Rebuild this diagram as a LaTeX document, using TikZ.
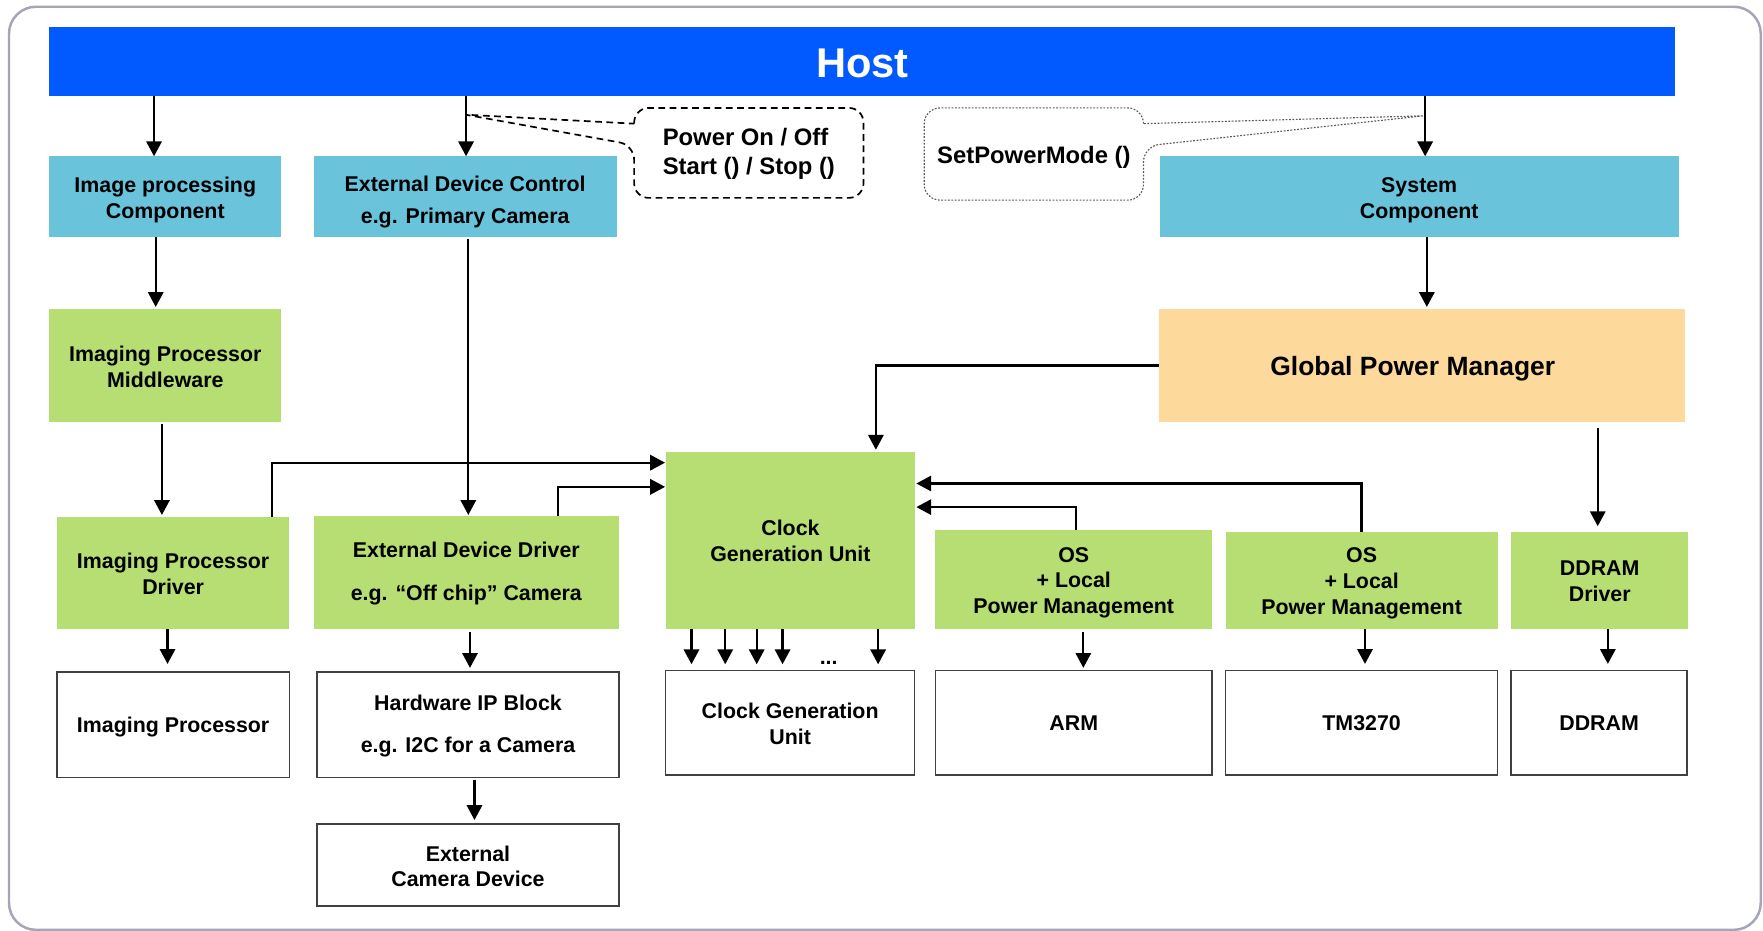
\documentclass[tikz,border=0pt]{standalone}
\usepackage{fontspec}
\setmainfont{Liberation Sans}
\usetikzlibrary{arrows.meta}
\definecolor{hostblue}{RGB}{0,90,255}
\definecolor{lblue}{RGB}{105,195,219}
\definecolor{lgreen}{RGB}{183,222,114}
\definecolor{lorange}{RGB}{253,218,155}
\definecolor{framegray}{RGB}{165,165,185}
\begin{document}
\begin{tikzpicture}[x=0.5pt,y=-0.5pt,
  blk/.style={inner sep=0pt, outer sep=0pt, align=center, font=\bfseries\fontsize{9.5}{11.5}\selectfont},
  bluebox/.style={blk, fill=lblue},
  greenbox/.style={blk, fill=lgreen},
  whitebox/.style={blk, fill=white, draw=black!75, line width=0.7pt},
  calltext/.style={inner sep=0pt, outer sep=0pt, align=left, font=\bfseries\fontsize{10.6}{13}\selectfont},
  arr/.style={line width=1pt, -{Triangle[length=6.6pt,width=6.8pt]}},
  plain/.style={line width=1pt}
]
\useasboundingbox (0,0) rectangle (1568,828);
% outer frame
\draw[framegray, line width=1.1pt, rounded corners=12pt] (8,6) rectangle (1566,827);

% host
\node[blk, fill=hostblue, minimum width=723pt, minimum height=30.5pt] (host) at (767,54.5) {};
\node[blk, text=white, font=\bfseries\fontsize{18.5}{22}\selectfont] (host-t) at ([yshift=-1pt]host.center) {Host};

% first row
\node[bluebox, minimum width=103pt, minimum height=36pt] (imgcomp) at (147,175) {};
\node[blk] (imgcomp-t) at ([yshift=-1.5pt]imgcomp.center) {Image processing\\Component};
\node[bluebox, minimum width=134.75pt, minimum height=36pt] (edc) at (413.75,175) {};
\node[blk] (edc-t) at ([yshift=-2.25pt]edc.center) {External Device Control\\[2.5pt]e.g. Primary Camera};
\node[bluebox, minimum width=230.75pt, minimum height=36pt] (syscomp) at (1262.25,175) {};
\node[blk] (syscomp-t) at ([yshift=-1.5pt]syscomp.center) {System\\Component};

% callouts
\node[calltext, minimum width=102pt, minimum height=40pt] (c1) at (666,136) {};
\node[calltext] (c1-t) at ([yshift=-0.5pt]c1.center) {Power On / Off\\Start () / Stop ()};
\node[calltext, minimum width=97.5pt, minimum height=41pt] (c2) at (919.5,137) {};
\node[calltext] (c2-t) at ([yshift=-1.5pt]c2.center) {SetPowerMode ()};
\coordinate (p1) at (414,102);
\coordinate (p2) at (1266,103);
\draw[line width=0.75pt, dash pattern=on 3pt off 2pt]
  (c1.west |- 0,110) [rounded corners=6.5pt] -- (c1.north west) -- (c1.north east) -- (c1.south east) -- (c1.south west) -- (c1.west |- 0,129) [sharp corners] -- (p1) -- cycle;
\draw[line width=0.5pt, black!65, dash pattern=on 0.8pt off 0.7pt]
  (c2.east |- 0,110) [rounded corners=7pt] -- (c2.north east) -- (c2.north west) -- (c2.south west) -- (c2.south east) -- (c2.east |- 0,130) [sharp corners] -- (p2) -- cycle;

% second row
\node[greenbox, minimum width=103pt, minimum height=50pt] (ipm) at (147,325) {};
\node[blk] (ipm-t) at ([yshift=-0.5pt]ipm.center) {Imaging Processor\\Middleware};
\node[blk, fill=lorange, minimum width=234pt, minimum height=50pt] (gpm) at (1265,325) {};
\node[blk, font=\bfseries\fontsize{11.75}{14}\selectfont] (gpm-t) at ([xshift=-4.25pt,yshift=-1.5pt]gpm.center) {Global Power Manager};

% third row
\node[greenbox, minimum width=103pt, minimum height=49.75pt] (ipd) at (154,509.75) {};
\node[blk] (ipd-t) at ([yshift=-0.5pt]ipd.center) {Imaging Processor\\Driver};
\node[greenbox, minimum width=135.75pt, minimum height=50.25pt] (edd) at (414.75,509.25) {};
\node[blk] (edd-t) at ([yshift=-0.5pt]edd.center) {External Device Driver\\[7.5pt]e.g. “Off chip” Camera};
\node[greenbox, minimum width=110.5pt, minimum height=78.75pt] (cgu) at (703,480.75) {};
\node[blk] (cgu-t) at (cgu.center) {Clock\\Generation Unit};
\node[greenbox, minimum width=123pt, minimum height=44.25pt] (os1) at (955,515.25) {};
\node[blk] (os1-t) at ([yshift=-1.5pt]os1.center) {OS\\+ Local\\Power Management};
\node[greenbox, minimum width=121pt, minimum height=43.25pt] (os2) at (1211,516.25) {};
\node[blk] (os2-t) at ([yshift=-1.25pt]os2.center) {OS\\+ Local\\Power Management};
\node[greenbox, minimum width=78.75pt, minimum height=43.25pt] (ddrd) at (1422.75,516.25) {};
\node[blk] (ddrd-t) at ([yshift=-0.5pt]ddrd.center) {DDRAM\\Driver};

% fourth row
\node[whitebox, minimum width=103.5pt, minimum height=47pt] (ip) at (154,644.5) {};
\node[blk] (ip-t) at ([yshift=-1pt]ip.center) {Imaging Processor};
\node[whitebox, minimum width=134.25pt, minimum height=47pt] (hw) at (416.25,644.5) {};
\node[blk] (hw-t) at ([yshift=-0.5pt]hw.center) {Hardware IP Block\\[7pt]e.g. I2C for a Camera};
\node[whitebox, minimum width=110.75pt, minimum height=46.5pt] (cgu2) at (702.75,643) {};
\node[blk] (cgu2-t) at ([yshift=-0.5pt]cgu2.center) {Clock Generation\\Unit};
\node[whitebox, minimum width=123pt, minimum height=46.5pt] (arm) at (955,643) {};
\node[blk] (arm-t) at (arm.center) {ARM};
\node[whitebox, minimum width=121pt, minimum height=46.5pt] (tm) at (1211,643) {};
\node[blk] (tm-t) at (tm.center) {TM3270};
\node[whitebox, minimum width=78.25pt, minimum height=46.5pt] (ddram) at (1422.25,643) {};
\node[blk] (ddram-t) at (ddram.center) {DDRAM};
\node[whitebox, minimum width=134.25pt, minimum height=36.5pt] (ecd) at (416.25,769.5) {};
\node[blk] (ecd-t) at ([yshift=-0.5pt]ecd.center) {External\\Camera Device};

\node[blk, anchor=base] (dots) at (737,591) {...};

% connectors from host
\draw[arr] (host.south -| 137,0) -- (imgcomp.north -| 137,0);
\draw[arr] (host.south -| 414.5,0) -- (edc.north -| 414.5,0);
\draw[arr] (host.south -| 1267.5,0) -- (syscomp.north -| 1267.5,0);

% left column
\draw[arr, shorten >=1pt] (imgcomp.south -| 138.5,0) -- (ipm.north -| 138.5,0);
\draw[arr, shorten <=1pt, shorten >=1pt] (ipm.south -| 144,0) -- (ipd.north -| 144,0);
\draw[arr, shorten >=3.5pt] (ipd.south -| 149,0) -- (ip.north -| 149,0);

% external device column
\draw[arr, shorten <=1pt, shorten >=0.5pt] (edc.south -| 416.5,0) -- (edd.north -| 416.5,0);
\draw[arr, shorten <=1.5pt, shorten >=1.75pt] (edd.south -| 418,0) -- (hw.north -| 418,0);
\draw[arr, shorten <=1pt, shorten >=1.85pt] (hw.south -| 422,0) -- (ecd.north -| 422,0);

% into clock generation unit
\draw[arr, shorten >=0.5pt] (ipd.north -| 242,0) |- (cgu.west |- 0,411.5);
\draw[arr, shorten >=0.5pt] (edd.north -| 496,0) |- (cgu.west |- 0,433);
\draw[arr, shorten >=1pt] (gpm.west) -| (cgu.north -| 779,0);
\draw[arr, shorten >=0.75pt] (os1.north -| 957,0) |- (cgu.east |- 0,451);
\draw[arr, shorten >=0.75pt] (os2.north -| 1211,0) |- (cgu.east |- 0,430);

% clock outputs
\foreach \xx in {615,645,673,696,781}
  \draw[arr, shorten >=2.85pt] (cgu.south -| \xx,0) -- (cgu2.north -| \xx,0);

% right side
\draw[arr, shorten >=1pt] (syscomp.south -| 1269,0) -- (gpm.north -| 1269,0);
\draw[arr, shorten <=2.75pt, shorten >=2.5pt] (gpm.south -| 1421,0) -- (ddrd.north -| 1421,0);
\draw[arr, shorten <=1.5pt, shorten >=1.25pt] (os1.south -| 963.5,0) -- (arm.north -| 963.5,0);
\draw[arr, shorten >=3pt] (os2.south -| 1214,0) -- (tm.north -| 1214,0);
\draw[arr, shorten >=3pt] (ddrd.south -| 1430,0) -- (ddram.north -| 1430,0);
\end{tikzpicture}
\end{document}
